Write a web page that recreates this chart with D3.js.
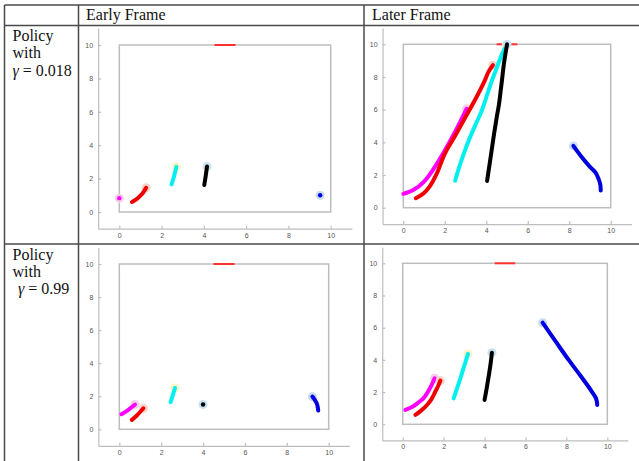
<!DOCTYPE html>
<html>
<head>
<meta charset="utf-8">
<script src="https://cdn.jsdelivr.net/npm/d3@7"></script>
<style>
  body { margin: 0; background: #fff; }
  .cell-text { font-family: "Liberation Serif", "Times New Roman", serif; font-size: 16px; fill: #111; }
  .tick text { font-family: "Liberation Sans", Arial, sans-serif; font-size: 7px; fill: #555; }
  .tick line, .domain { stroke: #bdbdbd; stroke-width: 1.2; }
</style>
</head>
<body>
<div id="chart"></div>
<script>
// table labels
var columnLabels = ["Early Frame", "Later Frame"];
var rowLabels = ["Policy", "with"];
var gammaValues = ["0.018", "0.99"];

// axis ticks
var xTicks = [0, 2, 4, 6, 8, 10];
var yTicks = [0, 2, 4, 6, 8, 10];

// agents, in drawing order
var agents = ["magenta", "red", "cyan", "black", "blue"];

// goal segment on the top wall
var goalSegment = [[4.5, 10], [5.5, 10]];

// trajectories (x, y) per agent, gamma = 0.018, early frame
var earlyLowGamma = [
  [[0, 0.83]],
  [[0.6, 0.6], [0.8, 0.75], [1.0, 0.98], [1.15, 1.2], [1.27, 1.45]],
  [[2.47, 1.65], [2.58, 2.1], [2.7, 2.7]],
  [[4.02, 1.62], [4.08, 2.1], [4.15, 2.72]],
  [[9.5, 1.0]]
];
// gamma = 0.018, later frame
var laterLowGamma = [
  [[0, 0.85], [0.5, 1.1], [1.0, 1.6], [1.5, 2.45], [2.0, 3.5], [2.5, 4.65], [3.05, 6.05]],
  [[0.6, 0.58], [1.0, 0.9], [1.3, 1.35], [1.6, 2.05], [2.0, 3.3], [2.5, 4.4], [3.0, 5.55], [3.5, 6.7], [3.9, 7.7], [4.1, 8.3], [4.32, 8.72]],
  [[2.5, 1.65], [2.65, 2.3], [2.84, 3.03], [3.15, 4.1], [3.48, 5.07], [3.8, 6.0], [4.04, 6.9], [4.25, 7.7], [4.44, 8.34], [4.7, 9.2], [4.97, 9.98]],
  [[4.04, 1.64], [4.2, 3.0], [4.37, 4.46], [4.5, 5.5], [4.61, 6.3], [4.7, 7.2], [4.77, 7.94], [4.85, 8.8], [5.0, 10]],
  [[9.52, 1.05], [9.5, 1.4], [9.42, 1.75], [9.27, 2.15], [9.0, 2.5], [8.6, 3.1], [8.2, 3.78]]
];
// gamma = 0.99, early frame
var earlyHighGamma = [
  [[0.1, 0.91], [0.4, 1.15], [0.75, 1.5]],
  [[0.6, 0.57], [0.85, 0.85], [1.15, 1.27]],
  [[2.45, 1.64], [2.55, 2.05], [2.66, 2.5]],
  [[4.0, 1.5]],
  [[9.5, 1.13], [9.45, 1.5], [9.35, 1.75], [9.22, 1.98]]
];
// gamma = 0.99, later frame
var laterHighGamma = [
  [[0.13, 0.89], [0.5, 1.1], [0.78, 1.37], [1.0, 1.6], [1.19, 1.93], [1.4, 2.4], [1.56, 2.86]],
  [[0.62, 0.58], [0.9, 0.85], [1.19, 1.2], [1.4, 1.55], [1.59, 2.02], [1.72, 2.35], [1.84, 2.71]],
  [[2.49, 1.61], [2.65, 2.2], [2.82, 2.86], [3.0, 3.6], [3.19, 4.37]],
  [[4.0, 1.51], [4.1, 2.2], [4.2, 2.96], [4.3, 3.8], [4.36, 4.45]],
  [[9.51, 1.2], [9.45, 1.6], [9.25, 2.02], [8.7, 3.0], [8.11, 4.0], [7.5, 5.1], [6.84, 6.31]]
];

// colours for each agent: line and pale marker
var lineColors = { magenta: "#ff00ff", red: "#f00000", cyan: "#00f0f0", black: "#000000", blue: "#0000e0" };
var haloColors = { magenta: "#f7cde9", red: "#f9d3c6", cyan: "#fbf3c4", black: "#c9e2f0", blue: "#c8dcf3" };

// where each panel sits (pixel position of data 0 and 10)
var panels = [
  { data: earlyLowGamma, x0: 119.3, x10: 330.7, y0: 212, y10: 45 },
  { data: laterLowGamma, x0: 403.3, x10: 610.7, y0: 207.7, y10: 44.3 },
  { data: earlyHighGamma, x0: 119.3, x10: 328.7, y0: 429.3, y10: 264 },
  { data: laterHighGamma, x0: 402.7, x10: 607.3, y0: 424.3, y10: 263.3 }
];

var svgWidth = 639;
var svgHeight = 461;

var svg = d3.select("#chart")
  .append("svg")
  .attr("width", svgWidth)
  .attr("height", svgHeight)
  .style("display", "block");

svg.append("rect")
  .attr("width", svgWidth)
  .attr("height", svgHeight)
  .attr("fill", "#fff");

// table grid
var grid = svg.append("g")
  .attr("stroke", "#4a4a4a")
  .attr("stroke-width", 1.5);
grid.append("line").attr("x1", 4.5).attr("x2", svgWidth).attr("y1", 5).attr("y2", 5);
grid.append("line").attr("x1", 4.5).attr("x2", svgWidth).attr("y1", 25.5).attr("y2", 25.5);
grid.append("line").attr("x1", 4.5).attr("x2", svgWidth).attr("y1", 244).attr("y2", 244);
grid.append("line").attr("x1", 4.5).attr("x2", 4.5).attr("y1", 5).attr("y2", svgHeight);
grid.append("line").attr("x1", 78.5).attr("x2", 78.5).attr("y1", 5).attr("y2", svgHeight);
grid.append("line").attr("x1", 364).attr("x2", 364).attr("y1", 5).attr("y2", svgHeight);

// column headers
svg.selectAll(".col-label")
  .data(columnLabels)
  .enter()
  .append("text")
  .attr("class", "cell-text")
  .attr("x", (d, i) => i === 0 ? 86 : 372)
  .attr("y", 20)
  .text(d => d);

// row headers
gammaValues.forEach(function(g, i) {
  var top = i === 0 ? 41 : 259.5;
  rowLabels.forEach(function(label, j) {
    svg.append("text")
      .attr("class", "cell-text")
      .attr("x", 12.5)
      .attr("y", top + j * 17.3)
      .text(label);
  });
  var gLine = svg.append("text")
    .attr("class", "cell-text")
    .attr("x", i === 0 ? 12.5 : 18)
    .attr("y", top + 2 * 17.3);
  gLine.append("tspan").attr("font-style", "italic").text("γ");
  gLine.append("tspan").text(" = " + g);
});

// one panel: axes, walls, goal and agent tracks
function drawPanel(p) {
  var ux = (p.x10 - p.x0) / 10;
  var uy = (p.y0 - p.y10) / 10;
  var x = d3.scaleLinear().domain([-1, 11]).range([p.x0 - ux, p.x10 + ux]);
  var y = d3.scaleLinear().domain([-1, 11]).range([p.y0 + uy, p.y10 - uy]);
  var g = svg.append("g");

  // axes
  g.append("g")
    .attr("transform", `translate(${x(-1)},0)`)
    .call(d3.axisLeft(y).tickValues(yTicks).tickSize(-3).tickSizeOuter(0).tickPadding(5));
  g.append("g")
    .attr("transform", `translate(0,${y(-1)})`)
    .call(d3.axisBottom(x).tickValues(xTicks).tickSize(-3).tickSizeOuter(0).tickPadding(4));

  // arena walls
  g.append("rect")
    .attr("x", x(0))
    .attr("y", y(10))
    .attr("width", x(10) - x(0))
    .attr("height", y(0) - y(10))
    .attr("fill", "none")
    .attr("stroke", "#bdbdbd")
    .attr("stroke-width", 1.5);

  // goal
  g.append("line")
    .attr("x1", x(goalSegment[0][0]))
    .attr("y1", y(goalSegment[0][1]))
    .attr("x2", x(goalSegment[1][0]))
    .attr("y2", y(goalSegment[1][1]))
    .attr("stroke", "#ff3030")
    .attr("stroke-width", 2);

  var line = d3.line()
    .x(d => x(d[0]))
    .y(d => y(d[1]))
    .curve(d3.curveCatmullRom);

  p.data.forEach(function(track, i) {
    var agent = agents[i];
    var last = track[track.length - 1];
    g.append("circle")
      .attr("cx", x(last[0]))
      .attr("cy", y(last[1]))
      .attr("r", 4.5)
      .attr("fill", haloColors[agent]);
    if (track.length > 1) {
      g.append("path")
        .datum(track)
        .attr("d", line)
        .attr("fill", "none")
        .attr("stroke", lineColors[agent])
        .attr("stroke-width", 4)
        .attr("stroke-linecap", "round");
    } else {
      g.append("circle")
        .attr("cx", x(last[0]))
        .attr("cy", y(last[1]))
        .attr("r", 2.2)
        .attr("fill", lineColors[agent]);
    }
  });
}

panels.forEach(drawPanel);
</script>
</body>
</html>
